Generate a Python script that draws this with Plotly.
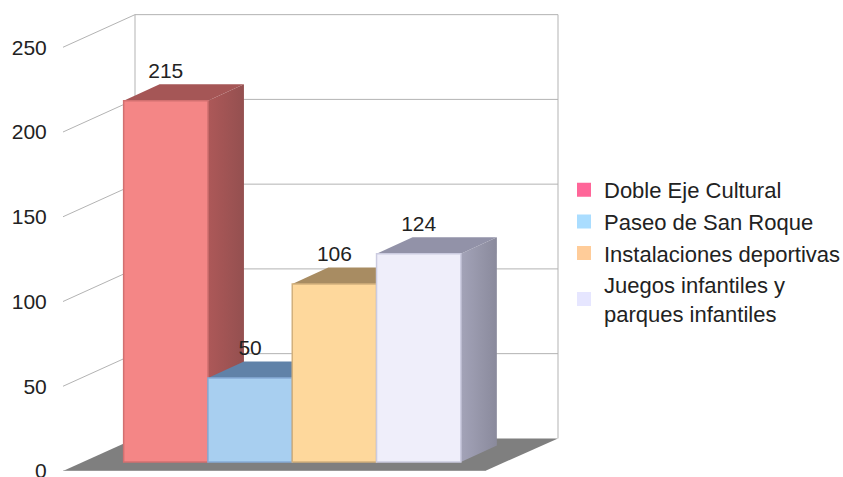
import plotly.graph_objects as go

# ---- data ----
series_names = ["Doble Eje Cultural", "Paseo de San Roque", "Instalaciones deportivas",
                "Juegos infantiles y<br>parques infantiles"]
series_values = [215, 50, 106, 124]
tick_values = [0, 50, 100, 150, 200, 250]
legend_colors = ["#FF6699", "#AADDFF", "#FFCC99", "#E6E6FF"]
front_colors = ["#F48686", "#A8CFF0", "#FED89C", "#EFEEFA"]
edge_colors = ["#D27070", "#86ACD6", "#D2B07C", "#CBCBE0"]
top_colors = ["#A55656", "#6082A8", "#A88C62", "#9292A8"]
side_start = ["#AD5858", "#6E8FB4", "#B09468", "#A3A3B8"]
side_end = ["#945050", "#5A7A9E", "#98805A", "#8A8A9C"]

# ---- projection parameters ----
W, H = 843, 477
EXTRA = 17              # spare width so the legend box fits without shrinking the plot
ML, MB = 63, 6
floor_y_px = 471
tick_scale = 1.695      # px per unit on the front plane
bar_scale = 1.68        # px per unit on the bar plane
bar_base_px = 462
bar_px = 84.3
bar0_center_px = 165.8
plot_h = H - MB

xrange_ = [(ML - bar0_center_px) / bar_px, (W - bar0_center_px) / bar_px]
yrange = [0, plot_h / tick_scale]
bar_yrange = [-(floor_y_px - bar_base_px) / bar_scale,
              plot_h / bar_scale - (floor_y_px - bar_base_px) / bar_scale]

wall_l, wall_r = (135 - bar0_center_px) / bar_px, (558 - bar0_center_px) / bar_px
front_r = (485 - bar0_center_px) / bar_px
front_l = xrange_[0]
wall_dy = 32.6 / tick_scale
bar_dx, bar_dy = 36 / bar_px, 16.5 / bar_scale

fig = go.Figure()
skip = dict(showlegend=False, hoverinfo="skip")
GRID = "#B3B3B3"

# floor
fig.add_trace(go.Scatter(x=[front_l, wall_l, wall_r, front_r, front_l],
                         y=[0, wall_dy, wall_dy, 0, 0], mode="lines", fill="toself",
                         fillcolor="#7F7F7F", line=dict(width=0), yaxis="y", **skip))
fig.add_trace(go.Scatter(x=[front_l, front_r], y=[0, 0], mode="lines",
                         line=dict(color=GRID, width=1), yaxis="y", **skip))
# wall outline and gridlines
gx, gy = [wall_l, wall_l, None, wall_r, wall_r, None], [wall_dy, 250 + wall_dy, None, wall_dy, 250 + wall_dy, None]
for t in tick_values[1:]:
    gx += [front_l, wall_l, wall_r, None]
    gy += [t, t + wall_dy, t + wall_dy, None]
fig.add_trace(go.Scatter(x=gx, y=gy, mode="lines", line=dict(color=GRID, width=1),
                         yaxis="y", connectgaps=False, **skip))

# side and top faces, left to right
for i, v in enumerate(series_values):
    e = i + 0.5
    fig.add_trace(go.Scatter(x=[e, e, e + bar_dx, e + bar_dx, e], y=[0, v, v + bar_dy, bar_dy, 0],
                             mode="lines", fill="toself", line=dict(width=0),
                             fillgradient=dict(type="horizontal",
                                               colorscale=[[0, side_start[i]], [1, side_end[i]]]),
                             yaxis="y2", **skip))
    l = i - 0.5
    fig.add_trace(go.Scatter(x=[l, l + bar_dx, e + bar_dx, e, l],
                             y=[v, v + bar_dy, v + bar_dy, v, v],
                             mode="lines", fill="toself", fillcolor=top_colors[i],
                             line=dict(width=0), yaxis="y2", **skip))

# front faces
for i, v in enumerate(series_values):
    fig.add_trace(go.Bar(x=[i], y=[v], width=1, marker=dict(color=front_colors[i],
                         line=dict(color=edge_colors[i], width=1.5)),
                         name=series_names[i].replace("<br>", " "),
                         showlegend=False, yaxis="y3"))

# legend entries
for name, c in zip(series_names, legend_colors):
    fig.add_trace(go.Bar(x=[None], y=[None], name=name, yaxis="y3", hoverinfo="skip",
                         marker=dict(color=c, line=dict(color=c, width=2))))

# value labels
fig.add_trace(go.Scatter(x=list(range(len(series_values))),
                         y=[v + bar_dy + 0.5 for v in series_values],
                         text=[str(v) for v in series_values], mode="text",
                         textposition="top center",
                         textfont=dict(size=21, color="#222222"),
                         cliponaxis=False, yaxis="y3", **skip))

font = "Liberation Sans"
fig.update_layout(
    width=W + EXTRA, height=H, margin=dict(l=ML, r=EXTRA, t=0, b=MB),
    paper_bgcolor="white", plot_bgcolor="rgba(0,0,0,0)", barmode="overlay",
    font=dict(family=font, size=21, color="#222222"),
    xaxis=dict(range=xrange_, visible=False, fixedrange=True),
    yaxis=dict(range=yrange, tickmode="array", tickvals=tick_values, showgrid=False,
               zeroline=False, showline=False, ticks="outside", ticklen=11, automargin=False,
               ticklabeloverflow="allow", tickcolor="rgba(0,0,0,0)", fixedrange=True,
               tickfont=dict(size=21, color="#222222")),
    yaxis2=dict(range=bar_yrange, overlaying="y", visible=False, fixedrange=True),
    yaxis3=dict(range=bar_yrange, overlaying="y", visible=False, fixedrange=True),
    legend=dict(x=(570 - ML) / (W - ML), xanchor="left", y=(H - MB - 169) / (H - MB), yanchor="top",
                indentation=-6, bgcolor="rgba(0,0,0,0)", font=dict(size=22, color="#222222"),
                traceorder="normal"),
)
fig.write_html("out.html", config=dict(displayModeBar=False),
               post_script="document.body.style.margin='0';document.body.style.overflow='hidden';")
